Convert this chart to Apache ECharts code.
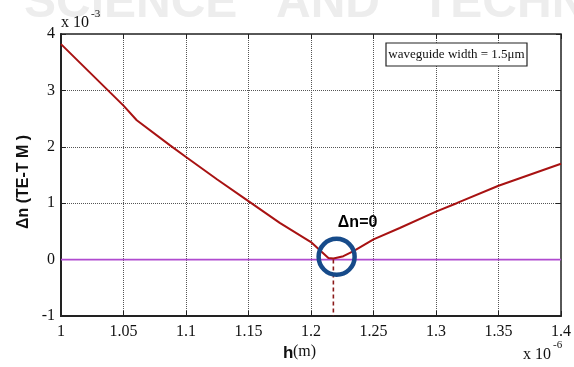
<!DOCTYPE html>
<html><head><meta charset="utf-8">
<script src="https://cdn.jsdelivr.net/npm/echarts@6/dist/echarts.min.js"></script>
<style>html,body{margin:0;padding:0;background:#fff}#c{width:574px;height:367px}</style>
</head><body><div id="c"></div>
<script>
// h in units of 1e-6 m, dn in units of 1e-3
var hValues = [1.000, 1.0376, 1.050, 1.0606, 1.087, 1.100, 1.125, 1.1485, 1.175, 1.2006, 1.2139, 1.218, 1.2259, 1.234, 1.250, 1.271, 1.300, 1.3165, 1.350, 1.400];
var dnValues = [3.82, 3.00, 2.73, 2.47, 2.03, 1.82, 1.42, 1.06, 0.65, 0.30, 0.03, 0.02, 0.06, 0.15, 0.36, 0.56, 0.85, 1.00, 1.31, 1.70];
var zeroLineH = [1.0, 1.4];
var zeroLineDn = [0, 0];
var markerH = 1.2179;
var markerDn = [0, -1];
var circleCenter = [1.2205, 0.05];
var xTicks = [1, 1.05, 1.1, 1.15, 1.2, 1.25, 1.3, 1.35, 1.4];
var yTicks = [-1, 0, 1, 2, 3, 4];

var curve = hValues.map(function(h, i){ return [h, dnValues[i]]; });
var zeroLine = zeroLineH.map(function(h, i){ return [h, zeroLineDn[i]]; });
var markerLine = markerDn.map(function(d){ return [markerH, d]; });

var serif = '"Liberation Serif", "DejaVu Serif", serif';
var sans = '"Liberation Sans", Arial, sans-serif';

var chart = echarts.init(document.getElementById('c'), null, {renderer: 'canvas'});
chart.setOption({
  animation: false,
  backgroundColor: '#fff',
  grid: {left: 61, right: 13, top: 34, bottom: 51, show: true, borderColor: '#222', borderWidth: 1.5, backgroundColor: 'transparent'},
  xAxis: [{
    type: 'value', min: 1, max: 1.4, interval: 0.05,
    axisLine: {show: true, onZero: false, lineStyle: {color: '#222', width: 2}},
    axisTick: {show: true, inside: true, length: 5, lineStyle: {color: '#222'}},
    axisLabel: {color: '#111', fontFamily: serif, fontSize: 16, margin: 8,
      formatter: function(v){ return String(+v.toFixed(2)); }},
    splitLine: {show: true, lineStyle: {type: 'dotted', color: '#555', width: 1}}
  }, {
    type: 'value', min: 1, max: 1.4, interval: 0.05, position: 'top',
    axisLine: {show: false, onZero: false}, axisLabel: {show: false}, splitLine: {show: false},
    axisTick: {show: true, inside: true, length: 5, lineStyle: {color: '#222'}}
  }],
  yAxis: [{
    type: 'value', min: -1, max: 4, interval: 1,
    axisLine: {show: true, onZero: false, lineStyle: {color: '#222', width: 2}},
    axisTick: {show: true, inside: true, length: 5, lineStyle: {color: '#222'}},
    axisLabel: {color: '#111', fontFamily: serif, fontSize: 16, margin: 6},
    splitLine: {show: true, lineStyle: {type: 'dotted', color: '#555', width: 1}}
  }, {
    type: 'value', min: -1, max: 4, interval: 1, position: 'right',
    axisLine: {show: false, onZero: false}, axisLabel: {show: false}, splitLine: {show: false},
    axisTick: {show: true, inside: true, length: 5, lineStyle: {color: '#222'}}
  }],
  series: [
    {type: 'line', data: zeroLine, symbol: 'none', lineStyle: {color: '#b04ad0', width: 1.8}, z: 3},
    {type: 'line', data: markerLine, symbol: 'none', lineStyle: {color: '#8b1a1a', width: 1.6, type: [4, 3]}, z: 3},
    {type: 'line', data: curve, symbol: 'none', lineStyle: {color: '#a81212', width: 2}, z: 4},
    {type: 'scatter', data: [circleCenter], symbol: 'circle', symbolSize: 36,
      itemStyle: {color: 'rgba(0,0,0,0)', borderColor: '#174b8a', borderWidth: 4.5, opacity: 1}, z: 5,
      label: {show: true, position: 'top', distance: 6, offset: [21, 0], formatter: 'Δn=0',
        fontFamily: sans, fontWeight: 'bold', fontSize: 16, color: '#000', textBorderWidth: 0}}
  ],
  graphic: [
    {type: 'text', left: 24, top: -20, z: -10, style: {text: 'SCIENCE', font: 'bold 48px "Liberation Sans"', fill: '#ededed'}},
    {type: 'text', left: 276, top: -20, z: -10, style: {text: 'AND', font: 'bold 48px "Liberation Sans"', fill: '#ededed'}},
    {type: 'text', left: 421, top: -20, z: -10, style: {text: 'TECHNOLOGY', font: 'bold 48px "Liberation Sans"', fill: '#ededed'}},
    {type: 'text', left: 61, top: 15, style: {text: 'x 10', font: '16px "Liberation Serif"', fill: '#111'}},
    {type: 'text', left: 91, top: 9, style: {text: '-3', font: '11px "Liberation Serif"', fill: '#111'}},
    {type: 'text', left: 523, top: 347, style: {text: 'x 10', font: '16px "Liberation Serif"', fill: '#111'}},
    {type: 'text', left: 553, top: 340, style: {text: '-6', font: '11px "Liberation Serif"', fill: '#111'}},
    {type: 'text', left: 283, top: 345, style: {text: 'h', font: 'bold 17px "Liberation Sans"', fill: '#111'}},
    {type: 'text', left: 293, top: 344, style: {text: '(m)', font: '16px "Liberation Serif"', fill: '#111'}},
    {type: 'text', x: 24, y: 182, rotation: Math.PI / 2, style: {text: 'Δn (TE-T M )', font: 'bold 16px "Liberation Sans"', fill: '#111', textAlign: 'center', textVerticalAlign: 'middle'}},
    {type: 'rect', shape: {x: 386, y: 43, width: 141, height: 23}, style: {fill: '#fff', stroke: '#222', lineWidth: 1.2}, z: 10},
    {type: 'text', x: 456.5, y: 54.5, z: 11, style: {text: 'waveguide width = 1.5μm', font: '13px "Liberation Serif"', fill: '#111', textAlign: 'center', textVerticalAlign: 'middle'}}
  ]
});
</script></body></html>
